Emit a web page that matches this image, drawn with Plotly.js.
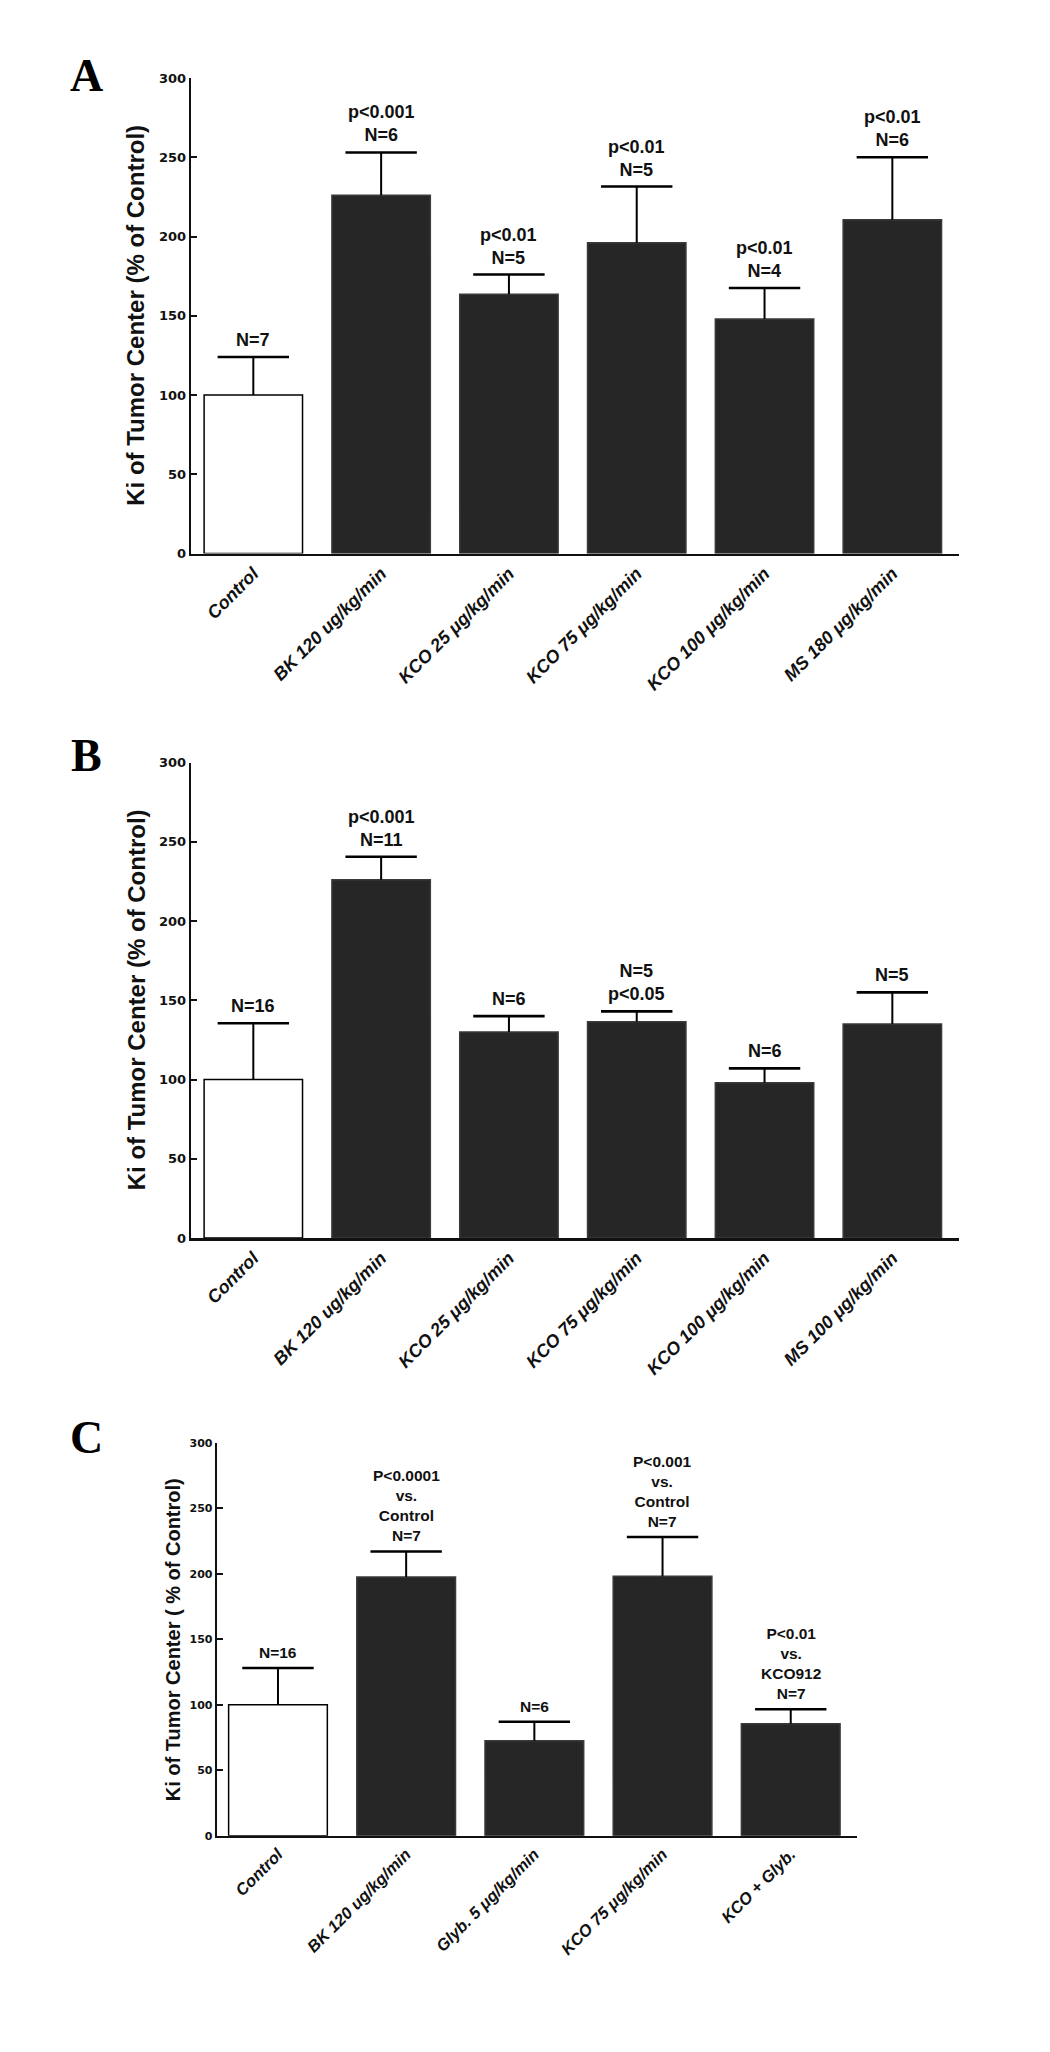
<!DOCTYPE html>
<html><head><meta charset="utf-8">
<script src="https://cdn.plot.ly/plotly-3.0.1.min.js"></script>
<style>html,body{margin:0;padding:0;background:#fff}</style>
</head><body>
<div id="chart" style="width:1050px;height:2052px"></div>
<script>
// ---- Data ----
const yTicks = [0, 50, 100, 150, 200, 250, 300];
const yTitleAB = "Ki of Tumor Center (% of Control)";
const yTitleC = "Ki of Tumor Center ( % of Control)";

const catsA = ["Control", "BK 120 ug/kg/min", "KCO 25 μg/kg/min", "KCO 75 μg/kg/min", "KCO 100 μg/kg/min", "MS 180 μg/kg/min"];
const meanA = [100, 226, 163.5, 196, 148, 210.5];
const upperA = [124, 253, 176, 231.5, 167.5, 250];
const notesA = ["N=7", "p&lt;0.001<br>N=6", "p&lt;0.01<br>N=5", "p&lt;0.01<br>N=5", "p&lt;0.01<br>N=4", "p&lt;0.01<br>N=6"];

const catsB = ["Control", "BK 120 ug/kg/min", "KCO 25 μg/kg/min", "KCO 75 μg/kg/min", "KCO 100 μg/kg/min", "MS 100 μg/kg/min"];
const meanB = [100, 226, 130, 136.5, 98, 135];
const upperB = [135.5, 240.5, 140, 143, 107, 155];
const notesB = ["N=16", "p&lt;0.001<br>N=11", "N=6", "N=5<br>p&lt;0.05", "N=6", "N=5"];

const catsC = ["Control", "BK 120 ug/kg/min", "Glyb. 5 μg/kg/min", "KCO 75 μg/kg/min", "KCO + Glyb."];
const meanC = [100, 197.5, 72.5, 198, 85.5];
const upperC = [128, 217, 87, 228, 96.5];
const notesC = ["N=16", "P&lt;0.0001<br>vs.<br>Control<br>N=7", "N=6", "P&lt;0.001<br>vs.<br>Control<br>N=7", "P&lt;0.01<br>vs.<br>KCO912<br>N=7"];

const panelLetters = ["A", "B", "C"];

// ---- Styling / layout helpers ----
const W = 1050, H = 2052;
const SANS = "Liberation Sans, Arial, Helvetica, sans-serif";
const DEJA = "DejaVu Sans, Verdana, sans-serif";
const SERIF = "Liberation Serif, Times New Roman, serif";
const DARK = "#262626";

function fx(p) { return p / W; }
function fy(p) { return 1 - p / H; }

const panels = [
  {cats: catsA, mean: meanA, upper: upperA, notes: notesA, ax: "", xpx: [190.7, 958.8], ypx: [553.5, 78], xr: [-0.49, 5.52],
   tickFont: 13, labFont: 18, noteFont: 18, titleFont: 24, titleX: 136, title: yTitleAB, letterY: 75},
  {cats: catsB, mean: meanB, upper: upperB, notes: notesB, ax: "2", xpx: [190.7, 958.8], ypx: [1238, 762.5], xr: [-0.49, 5.52],
   tickFont: 13, labFont: 18, noteFont: 18, titleFont: 24, titleX: 136, title: yTitleAB, letterY: 755},
  {cats: catsC, mean: meanC, upper: upperC, notes: notesC, ax: "3", xpx: [216.7, 857], ypx: [1835.7, 1442.7], xr: [-0.478, 4.517],
   tickFont: 11, labFont: 16.5, noteFont: 15.5, titleFont: 20, titleX: 173, title: yTitleC, letterY: 1437}
];

const traces = [];
const layout = {
  width: W, height: H,
  margin: {l: 0, r: 0, t: 0, b: 0},
  paper_bgcolor: "#fff", plot_bgcolor: "#fff",
  showlegend: false,
  annotations: []
};

panels.forEach((p, i) => {
  const xa = "x" + p.ax, ya = "y" + p.ax;
  const fillColors = p.cats.map((c, k) => k === 0 ? "#ffffff" : DARK);
  const lineColors = p.cats.map((c, k) => k === 0 ? "#000000" : "#3a3a3a");
  traces.push({
    type: "bar", x: p.cats, y: p.mean, xaxis: xa, yaxis: ya,
    width: 0.77,
    marker: {color: fillColors, line: {color: lineColors, width: 1.5}},
    error_y: {type: "data", symmetric: false,
      array: p.upper.map((u, k) => u - p.mean[k]),
      arrayminus: p.mean.map(() => 0),
      width: 0, thickness: 2, color: "#000"},
    hoverinfo: "skip"
  });
  traces.push({
    type: "scatter", mode: "markers", x: p.cats, y: p.upper, xaxis: xa, yaxis: ya,
    marker: {symbol: "line-ew", size: 51, color: "#000", line: {color: "#000", width: 2.6}},
    cliponaxis: false, hoverinfo: "skip"
  });

  layout["xaxis" + p.ax] = {
    domain: [fx(p.xpx[0]), fx(p.xpx[1])], anchor: ya,
    type: "category", categoryarray: p.cats, range: p.xr,
    showline: true, linecolor: "#111", linewidth: 2.5,
    ticks: "", showgrid: false, zeroline: false,
    tickangle: -45,
    tickfont: {family: SANS, size: p.labFont, color: "#111", weight: "bold", style: "italic"},
    fixedrange: true
  };
  layout["yaxis" + p.ax] = {
    domain: [fy(p.ypx[0]), fy(p.ypx[1])], anchor: xa,
    range: [0, 300], tickmode: "array", tickvals: yTicks, ticktext: yTicks.map(String),
    showline: true, linecolor: "#111", linewidth: 2,
    ticks: "inside", ticklen: 6, tickwidth: 2, tickcolor: "#111",
    showgrid: false, zeroline: false,
    tickfont: {family: DEJA, size: p.tickFont, color: "#111", weight: "bold"},
    fixedrange: true
  };

  // value notes above error caps
  p.cats.forEach((c, k) => {
    layout.annotations.push({
      xref: xa, yref: ya, x: c, y: p.upper[k], text: p.notes[k],
      showarrow: false, xanchor: "center", yanchor: "bottom", yshift: 5,
      font: {family: SANS, size: p.noteFont, color: "#111", weight: "bold"}
    });
  });

  // y-axis title
  layout.annotations.push({
    xref: "paper", yref: "paper", x: fx(p.titleX), y: fy((p.ypx[0] + p.ypx[1]) / 2),
    text: p.title, textangle: -90, showarrow: false,
    xanchor: "center", yanchor: "middle",
    font: {family: SANS, size: p.titleFont, color: "#111", weight: "bold"}
  });

  // panel letter
  layout.annotations.push({
    xref: "paper", yref: "paper", x: fx(86), y: fy(p.letterY),
    text: panelLetters[i], showarrow: false, xanchor: "center", yanchor: "middle",
    font: {family: SERIF, size: 46, color: "#000", weight: "bold"}
  });
});

Plotly.newPlot("chart", traces, layout, {staticPlot: true, displayModeBar: false});
</script>
</body></html>
